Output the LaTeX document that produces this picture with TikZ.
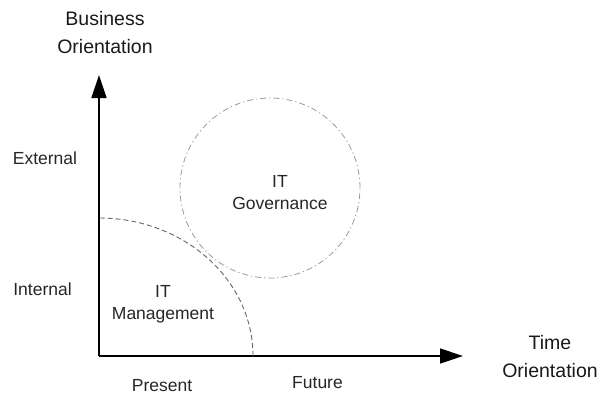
\documentclass[tikz,border=0pt]{standalone}
\usepackage{fontspec}
\setmainfont{Liberation Sans}
\usetikzlibrary{arrows.meta}
\begin{document}
\begin{tikzpicture}[x=1pt,y=-1pt,
  lbl/.style={font=\fontsize{17.5}{22}\selectfont, align=center, inner sep=0pt, text=black!85},
  ttl/.style={font=\fontsize{19.5}{28}\selectfont, align=center, inner sep=0pt, text=black!90},
  axis/.style={line width=1.4pt, -{Triangle[length=23pt,width=15pt]}},
  govline/.style={gray!80, line width=0.8pt, dash pattern=on 6pt off 3pt on 1.2pt off 3pt},
  mgmtline/.style={gray!80!black, line width=0.9pt, dash pattern=on 5pt off 3pt}]
\useasboundingbox (0,0) rectangle (600,397);
\coordinate (O) at (99,356);
\coordinate (ytip) at (99,75);
\coordinate (xtip) at (463,356);
\draw[axis] (O) -- (ytip);
\draw[axis] (O) -- (xtip);
\coordinate (arcstart) at (253,356);
\draw[mgmtline] (arcstart) arc[start angle=0, end angle=-90, x radius=154, y radius=138];
\node[govline, draw, circle, minimum size=180pt, inner sep=0pt] (gov) at (270,188) {};
\node[lbl] (govtxt) at (280,193) {IT\\Governance};
\node[lbl] (mgmt) at (163,304) {IT\\Management};
\node[ttl] (bo) at (105,33) {Business\\Orientation};
\node[ttl] (to) at (550,357) {Time\\Orientation};
\node[lbl] (ext) at (45,158) {External};
\node[lbl] (int) at (42.5,289) {Internal};
\node[lbl] (pres) at (162,386) {Present};
\node[lbl] (fut) at (317.5,383) {Future};
\end{tikzpicture}
\end{document}
